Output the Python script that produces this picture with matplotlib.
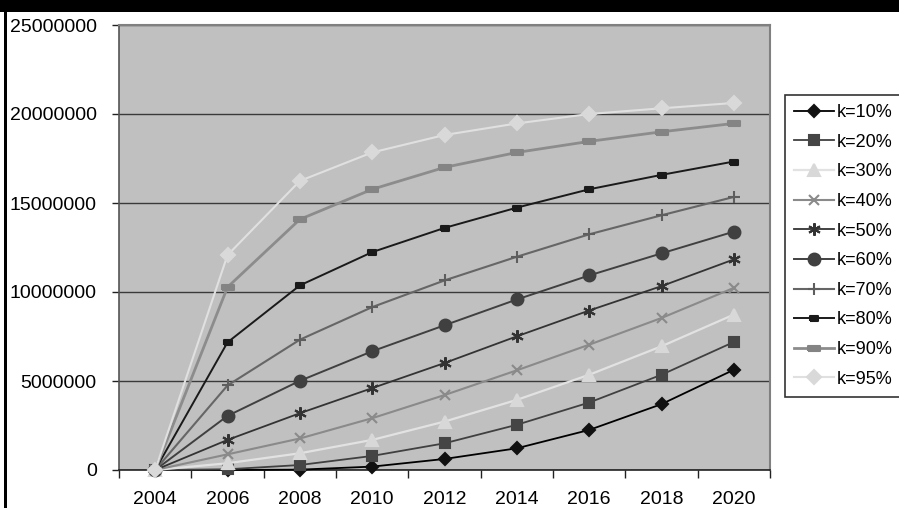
import matplotlib
matplotlib.use("Agg")
import matplotlib.pyplot as plt
from matplotlib.patches import Rectangle
from matplotlib.ticker import FixedLocator, NullFormatter

plt.rcParams['font.family'] = ['Liberation Sans', 'DejaVu Sans']

years = [2004, 2006, 2008, 2010, 2012, 2014, 2016, 2018, 2020]
labels = ["k=10%", "k=20%", "k=30%", "k=40%", "k=50%",
          "k=60%", "k=70%", "k=80%", "k=90%", "k=95%"]

k10 = [0, 0, 20000, 190000, 620000, 1220000, 2250000, 3700000, 5630000]
k20 = [0, 40000, 280000, 790000, 1500000, 2540000, 3790000, 5350000, 7190000]
k30 = [0, 380000, 940000, 1690000, 2720000, 3940000, 5350000, 6950000, 8730000]
k40 = [0, 880000, 1770000, 2910000, 4210000, 5600000, 7040000, 8540000, 10230000]
k50 = [0, 1690000, 3190000, 4600000, 6010000, 7510000, 8960000, 10330000, 11830000]
k60 = [0, 3040000, 5010000, 6670000, 8130000, 9580000, 10930000, 12170000, 13390000]
k70 = [0, 4750000, 7320000, 9150000, 10650000, 11980000, 13240000, 14310000, 15340000]
k80 = [0, 7170000, 10370000, 12240000, 13600000, 14740000, 15770000, 16580000, 17330000]
k90 = [0, 10270000, 14080000, 15770000, 17000000, 17840000, 18460000, 19000000, 19470000]
k95 = [0, 12070000, 16240000, 17840000, 18820000, 19470000, 20000000, 20320000, 20620000]

series = [k10, k20, k30, k40, k50, k60, k70, k80, k90, k95]

y_ticks = [0, 5000000, 10000000, 15000000, 20000000, 25000000]

bar_small = [(-1, -0.6), (1, -0.6), (1, 0.6), (-1, 0.6), (-1, -0.6)]
bar_wide = [(-1, -0.45), (1, -0.45), (1, 0.45), (-1, 0.45), (-1, -0.45)]

# line colour, marker, marker size, marker colour, line width
styles = [
    ("#000000", "D", 6.5, "#111111", 1.3),
    ("#404040", "s", 7.5, "#454545", 1.3),
    ("#e2e2e2", "^", 8, "#d8d8d8", 1.6),
    ("#8a8a8a", "x", 7, "#8a8a8a", 1.5),
    ("#333333", (6, 2, 0), 9, "#333333", 1.3),
    ("#404040", "o", 8.5, "#404040", 1.4),
    ("#666666", "+", 9, "#5e5e5e", 1.5),
    ("#1a1a1a", bar_small, 6, "#1a1a1a", 1.4),
    ("#8c8c8c", bar_wide, 8, "#848484", 2.0),
    ("#e0e0e0", "D", 7, "#d9d9d9", 1.5),
]

fig = plt.figure(figsize=(8.99, 5.08), dpi=100)
ax = fig.add_axes([119 / 899, 1 - 470 / 508, (770 - 119) / 899, (470 - 25) / 508])
ax.set_facecolor("#c0c0c0")

for vals, lab, (lc, mk, ms, mc, lw) in zip(series, labels, styles):
    ax.plot(years, vals, color=lc, lw=lw, marker=mk, markersize=ms,
            markerfacecolor=mc, markeredgecolor=mc, markeredgewidth=1.5,
            label=lab, clip_on=False, zorder=3)

ax.set_xlim(2003, 2021)
ax.set_ylim(0, 25000000)

ax.xaxis.set_major_locator(FixedLocator(list(range(2003, 2022, 2))))
ax.xaxis.set_major_formatter(NullFormatter())
ax.xaxis.set_minor_locator(FixedLocator(years))
ax.set_xticklabels([str(y) for y in years], minor=True)
ax.tick_params(axis="x", which="major", length=6, width=1, color="#222222", direction="out")
ax.tick_params(axis="x", which="minor", length=0, pad=15, labelsize=14)

ax.set_yticks(y_ticks)
ax.set_yticklabels([str(v) for v in y_ticks])
ax.tick_params(axis="y", length=5, width=1, color="#222222", pad=11, labelsize=14)

ax.grid(axis="y", color="#3a3a3a", lw=1)
ax.set_axisbelow(True)
for s in ["top", "right"]:
    ax.spines[s].set_color("#808080")
    ax.spines[s].set_linewidth(1.5)
ax.spines["left"].set_color("#555555")
ax.spines["bottom"].set_color("#222222")
ax.spines["left"].set_linewidth(1.2)
ax.spines["bottom"].set_linewidth(1.2)

leg = fig.legend(loc="upper left", bbox_to_anchor=(785 / 899, 1 - 95 / 508),
                 fontsize=13, frameon=True, fancybox=False, borderaxespad=0,
                 handlelength=2.2, handletextpad=0.15, labelspacing=0.70,
                 borderpad=0.5)
leg.get_frame().set_edgecolor("#000000")
leg.get_frame().set_linewidth(1.2)

# black banner at top and frame line at left
fig.patches.append(Rectangle((0, 1 - 12 / 508), 1, 12 / 508, transform=fig.transFigure,
                             facecolor="black", edgecolor="none", zorder=5))
fig.patches.append(Rectangle((4 / 899, 0), 2.5 / 899, 1, transform=fig.transFigure,
                             facecolor="black", edgecolor="none", zorder=5))

fig.savefig("out.png", dpi=100)
